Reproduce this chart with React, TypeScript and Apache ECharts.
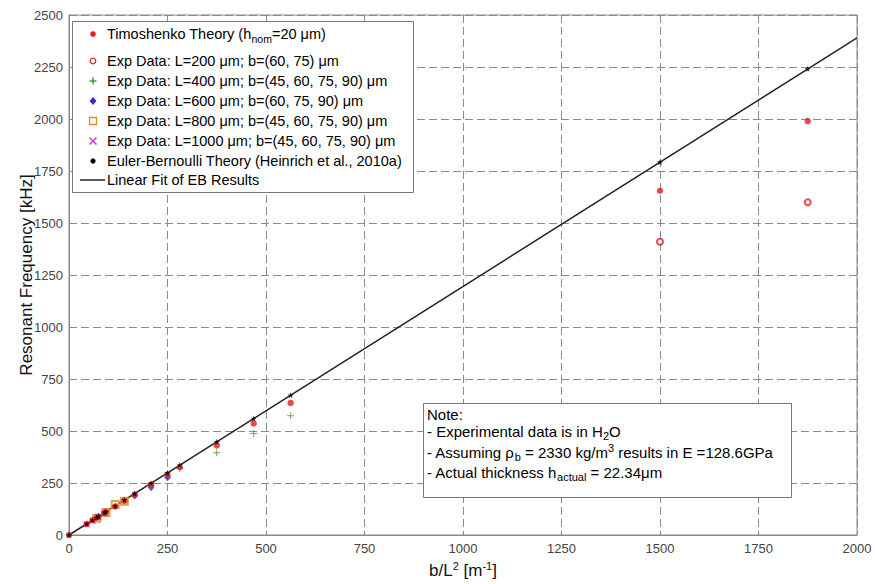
import React, { useEffect, useRef } from "react";
import * as echarts from "echarts";

// b/L^2 [1/m] values
const xTheory = [0, 45, 60, 70.3, 75, 90, 93.75, 117.19, 140.63, 166.67, 208.33, 250, 281.25, 375, 468.75, 562.5, 1500, 1875];
const ebTheory = [0, 54, 72, 84, 90, 108, 112, 140, 168, 199, 249, 299, 336, 448, 560, 672, 1793, 2241];
const timoTheory = [0, 53, 71, 83, 89, 106, 110, 137, 164, 194, 242, 290, 326, 431, 536, 635, 1655, 1990];

const xL200 = [1500, 1875];
const yL200 = [1410, 1600];
const xL400 = [281.25, 375, 468.75, 562.5];
const yL400 = [320, 395, 488, 573];
const xL600 = [166.67, 208.33, 250];
const yL600 = [190, 230, 278];
const xL800 = [70.3, 93.75, 117.19, 140.63];
const yL800 = [80, 108, 147, 162];
const xL1000 = [45, 60, 75, 90];
const yL1000 = [50, 68, 86, 104];

const fitX = [0, 2000];
const fitY = [0, 2390];

const xTicks = [0, 250, 500, 750, 1000, 1250, 1500, 1750, 2000];
const yTicks = [0, 250, 500, 750, 1000, 1250, 1500, 1750, 2000, 2250, 2500];

const C_RED = "#e61e1e";
const C_GREEN = "#2f9a2f";
const C_BLUE = "#3030c8";
const C_ORANGE = "#d98a2a";
const C_MAG = "#d835d8";

const PLUS = "path://M4.3,0H5.7V4.3H10V5.7H5.7V10H4.3V5.7H0V4.3H4.3Z";
const CROSS = "path://M0,1L1,0L5,4L9,0L10,1L6,5L10,9L9,10L5,6L1,10L0,9L4,5Z";
const STAR = "path://M5,0L6.2,3.4L9.8,3.5L7,5.7L7.9,9.2L5,7.1L2.1,9.2L3,5.7L0.2,3.5L3.8,3.4Z";

const FONT = "'Liberation Sans', Arial, sans-serif";

const zip = (xs: number[], ys: number[]) => xs.map((x, i) => [x, ys[i]]);

export default function App() {
  const ref = useRef<HTMLDivElement>(null);
  useEffect(() => {
    if (!ref.current) return;
    const chart = echarts.init(ref.current, undefined, { renderer: "svg" });

    const sub = { fontSize: 10.5, fontFamily: FONT, color: "#111", padding: [9, 0, 0, 0] };
    const sup = { fontSize: 10.5, fontFamily: FONT, color: "#111", padding: [0, 0, 9, 0] };
    const base = { fontSize: 14.5, fontFamily: FONT, color: "#111" };
    const nsub = { fontSize: 11, fontFamily: FONT, color: "#111", padding: [9, 0, 0, 0] };
    const nsup = { fontSize: 11, fontFamily: FONT, color: "#111", padding: [0, 0, 9, 0] };
    const nbase = { fontSize: 15, fontFamily: FONT, color: "#111" };

    const lx = 93;
    const tx = 107;
    const rows = [34, 61, 81, 101, 121, 141, 161, 180];
    const legendTexts = [
      "{b|Timoshenko Theory (h}{s|nom}{b|=20 μm)}",
      "{b|Exp Data: L=200 μm; b=(60, 75) μm}",
      "{b|Exp Data: L=400 μm; b=(45, 60, 75, 90) μm}",
      "{b|Exp Data: L=600 μm; b=(60, 75, 90) μm}",
      "{b|Exp Data: L=800 μm; b=(45, 60, 75, 90) μm}",
      "{b|Exp Data: L=1000 μm; b=(45, 60, 75, 90) μm}",
      "{b|Euler-Bernoulli Theory (Heinrich et al., 2010a)}",
      "{b|Linear Fit of EB Results}",
    ];

    const graphic: any[] = [
      {
        type: "rect",
        shape: { x: 72.5, y: 21.5, width: 341, height: 171 },
        style: { fill: "#fff", stroke: "#777", lineWidth: 1 },
        z: 10,
      },
      ...legendTexts.map((t, i) => ({
        type: "text",
        x: tx,
        y: rows[i],
        z: 11,
        style: { text: t, rich: { b: base, s: sub }, verticalAlign: "middle", align: "left" },
      })),
      { type: "circle", shape: { cx: lx, cy: rows[0], r: 2.8 }, style: { fill: C_RED }, z: 11 },
      { type: "circle", shape: { cx: lx, cy: rows[1], r: 2.8 }, style: { fill: "#fff", stroke: C_RED, lineWidth: 1.2 }, z: 11 },
      { type: "line", shape: { x1: lx - 3.5, y1: rows[2], x2: lx + 3.5, y2: rows[2] }, style: { stroke: C_GREEN, lineWidth: 1.4 }, z: 11 },
      { type: "line", shape: { x1: lx, y1: rows[2] - 3.5, x2: lx, y2: rows[2] + 3.5 }, style: { stroke: C_GREEN, lineWidth: 1.4 }, z: 11 },
      { type: "polygon", shape: { points: [[lx, rows[3] - 4], [lx + 3.5, rows[3]], [lx, rows[3] + 4], [lx - 3.5, rows[3]]] }, style: { fill: C_BLUE }, z: 11 },
      { type: "rect", shape: { x: lx - 3.5, y: rows[4] - 3.5, width: 7, height: 7 }, style: { fill: "#fff", stroke: C_ORANGE, lineWidth: 1.3 }, z: 11 },
      { type: "line", shape: { x1: lx - 3.5, y1: rows[5] - 3.5, x2: lx + 3.5, y2: rows[5] + 3.5 }, style: { stroke: C_MAG, lineWidth: 1.4 }, z: 11 },
      { type: "line", shape: { x1: lx - 3.5, y1: rows[5] + 3.5, x2: lx + 3.5, y2: rows[5] - 3.5 }, style: { stroke: C_MAG, lineWidth: 1.4 }, z: 11 },
      { type: "circle", shape: { cx: lx, cy: rows[6], r: 2.6 }, style: { fill: "#000" }, z: 11 },
      { type: "line", shape: { x1: 80, y1: rows[7], x2: 105, y2: rows[7] }, style: { stroke: "#222", lineWidth: 1.5 }, z: 11 },

      {
        type: "rect",
        shape: { x: 423.5, y: 403.5, width: 368, height: 94 },
        style: { fill: "#fff", stroke: "#777", lineWidth: 1 },
        z: 10,
      },
      { type: "text", x: 427, y: 414, z: 11, style: { text: "{b|Note:}", rich: { b: nbase }, verticalAlign: "middle" } },
      { type: "text", x: 427, y: 431, z: 11, style: { text: "{b|- Experimental data is in H}{s|2}{b|O}", rich: { b: nbase, s: nsub }, verticalAlign: "middle" } },
      { type: "text", x: 427, y: 452, z: 11, style: { text: "{b|- Assuming ρ}{s|b}{b| = 2330 kg/m}{p|3}{b| results in E =128.6GPa}", rich: { b: nbase, s: nsub, p: nsup }, verticalAlign: "middle" } },
      { type: "text", x: 427, y: 472, z: 11, style: { text: "{b|- Actual thickness h}{s|actual}{b| = 22.34μm}", rich: { b: nbase, s: nsub }, verticalAlign: "middle" } },
    ];

    const option: any = {
      animation: false,
      backgroundColor: "#fff",
      grid: { left: 69, right: 18, top: 15, bottom: 48, show: true, borderColor: "#888", borderWidth: 1, backgroundColor: "#fff" },
      xAxis: {
        type: "value",
        min: xTicks[0],
        max: xTicks[xTicks.length - 1],
        interval: xTicks[1] - xTicks[0],
        name: "{t|b/L}{p|2}{t| [m}{p|-1}{t|]}",
        nameLocation: "middle",
        nameGap: 25,
        nameMoveOverlap: false,
        nameTextStyle: {
          rich: {
            t: { fontSize: 17, fontFamily: FONT, color: "#111" },
            p: { fontSize: 11, fontFamily: FONT, color: "#111", padding: [0, 0, 10, 0] },
          },
        },
        axisLine: { show: true, lineStyle: { color: "#888" } },
        axisTick: { show: true, inside: true, length: 4, lineStyle: { color: "#888" } },
        axisLabel: { fontSize: 13, fontFamily: FONT, color: "#444", margin: 7, formatter: (v: number) => String(v) },
        splitLine: { show: true, lineStyle: { color: "#8a8a8a", type: [8, 4], width: 1 } },
      },
      yAxis: {
        type: "value",
        min: yTicks[0],
        max: yTicks[yTicks.length - 1],
        interval: yTicks[1] - yTicks[0],
        name: "Resonant Frequency [kHz]",
        nameLocation: "middle",
        nameRotate: 90,
        nameGap: 34,
        nameMoveOverlap: false,
        nameTextStyle: { fontSize: 17, fontFamily: FONT, color: "#111" },
        axisLine: { show: true, lineStyle: { color: "#888" } },
        axisTick: { show: true, inside: true, length: 4, lineStyle: { color: "#888" } },
        axisLabel: { fontSize: 13, fontFamily: FONT, color: "#444", margin: 6, formatter: (v: number) => String(v) },
        splitLine: { show: true, lineStyle: { color: "#8a8a8a", type: [8, 4], width: 1 } },
      },
      graphic,
      series: [
        {
          name: "Linear Fit of EB Results",
          type: "line",
          data: zip(fitX, fitY),
          symbol: "none",
          lineStyle: { color: "#222", width: 1.5 },
          z: 2,
        },
        {
          name: "Exp Data: L=200",
          type: "scatter",
          data: zip(xL200, yL200),
          symbol: "emptyCircle",
          symbolSize: 6,
          itemStyle: { color: C_RED, borderWidth: 1.2 },
          z: 3,
        },
        {
          name: "Exp Data: L=400",
          type: "scatter",
          data: zip(xL400, yL400),
          symbol: PLUS,
          symbolSize: 7,
          itemStyle: { color: C_GREEN },
          z: 3,
        },
        {
          name: "Exp Data: L=600",
          type: "scatter",
          data: zip(xL600, yL600),
          symbol: "diamond",
          symbolSize: [7, 8],
          itemStyle: { color: C_BLUE },
          z: 3,
        },
        {
          name: "Exp Data: L=800",
          type: "scatter",
          data: zip(xL800, yL800),
          symbol: "emptyRect",
          symbolSize: 7,
          itemStyle: { color: C_ORANGE, borderWidth: 1.3 },
          z: 3,
        },
        {
          name: "Exp Data: L=1000",
          type: "scatter",
          data: zip(xL1000, yL1000),
          symbol: CROSS,
          symbolSize: 7,
          itemStyle: { color: C_MAG },
          z: 3,
        },
        {
          name: "Timoshenko Theory",
          type: "scatter",
          data: zip(xTheory, timoTheory),
          symbol: "circle",
          symbolSize: 6.5,
          itemStyle: { color: C_RED },
          z: 4,
        },
        {
          name: "Euler-Bernoulli Theory",
          type: "scatter",
          data: zip(xTheory, ebTheory),
          symbol: STAR,
          symbolSize: 6,
          itemStyle: { color: "#000" },
          z: 5,
        },
      ],
    };
    chart.setOption(option);
    return () => chart.dispose();
  }, []);
  return <div ref={ref} style={{ width: 875, height: 584, position: "fixed", left: 0, top: 0 }} />;
}
